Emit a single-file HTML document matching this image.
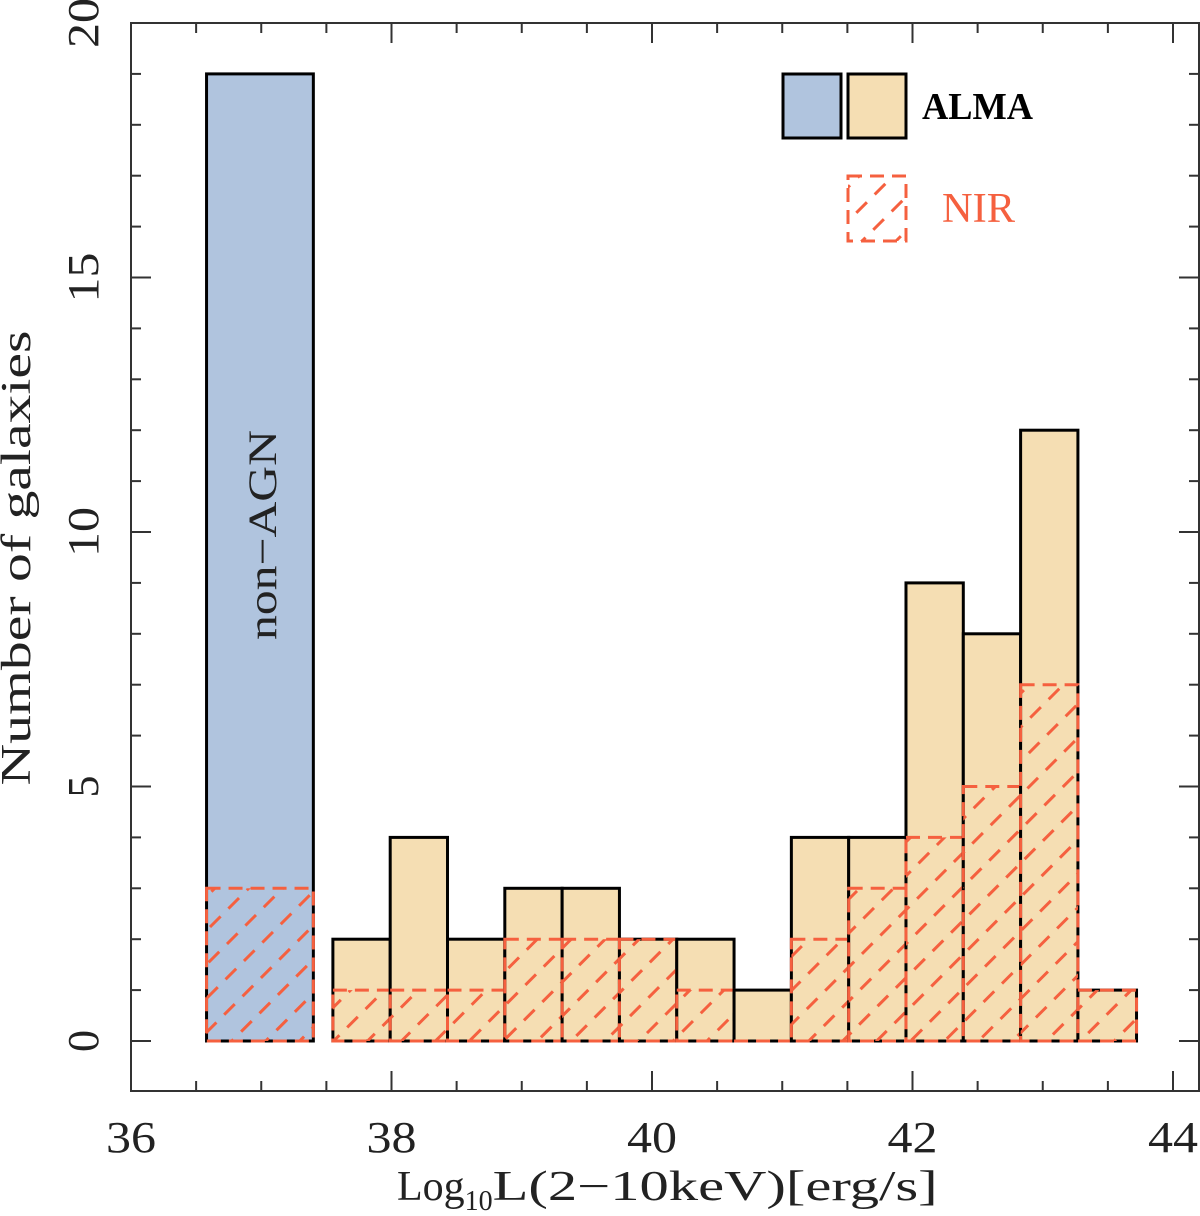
<!DOCTYPE html>
<html><head><meta charset="utf-8"><style>
html,body{margin:0;padding:0;background:#fff}
svg text{font-family:"Liberation Serif","DejaVu Serif",serif}
</style></head><body>
<svg id="chart" width="1200" height="1211" viewBox="0 0 1200 1211" xmlns="http://www.w3.org/2000/svg">
<defs>
<pattern id="hatch" patternUnits="userSpaceOnUse" width="24" height="26" patternTransform="rotate(45)">
<line x1="12" y1="-2" x2="12" y2="28" stroke="#f5603f" stroke-width="3" stroke-dasharray="15,11"/>
</pattern>
</defs>
<g id="bars"></g>
<g id="axes"></g>
<g>
<rect x="783" y="74" width="58" height="64" fill="#b0c4de" stroke="#000" stroke-width="3"/>
<rect x="848" y="74" width="58" height="64" fill="#f5deb3" stroke="#000" stroke-width="3"/>
<text x="922" y="119" font-size="38" font-weight="bold" textLength="111" lengthAdjust="spacingAndGlyphs">ALMA</text>
<rect x="848" y="176" width="58" height="65" fill="url(#hatch)" stroke="#f5603f" stroke-width="3" stroke-dasharray="14,8"/>
<text x="942" y="222" font-size="42" fill="#f5603f" textLength="73" lengthAdjust="spacingAndGlyphs">NIR</text>
</g>
<text transform="translate(276,535) rotate(-90)" text-anchor="middle" font-size="40" fill="#222" textLength="210" lengthAdjust="spacingAndGlyphs">non−AGN</text>
<text transform="translate(30,558) rotate(-90)" text-anchor="middle" font-size="42" fill="#222" textLength="455" lengthAdjust="spacingAndGlyphs">Number of galaxies</text>
<text x="397" y="1200" font-size="42" fill="#222">Log<tspan font-size="28" dy="10">10</tspan><tspan dy="-10" textLength="445" lengthAdjust="spacingAndGlyphs">L(2−10keV)[erg/s]</tspan></text>
</svg>
<script>
const binEdgesStart = [36.58, 37.55, 37.99, 38.43, 38.87, 39.31, 39.75, 40.19, 40.63, 41.07, 41.51, 41.95, 42.39, 42.83, 43.27];
const binEdgesEnd   = [37.40, 37.99, 38.43, 38.87, 39.31, 39.75, 40.19, 40.63, 41.07, 41.51, 41.95, 42.39, 42.83, 43.27, 43.72];
const almaCounts = [19, 2, 4, 2, 3, 3, 2, 2, 1, 4, 4, 9, 8, 12, 1];
const nirCounts  = [3, 1, 1, 1, 2, 2, 2, 1, 0, 2, 3, 4, 5, 7, 1];
const xTickLabels = ["36", "38", "40", "42", "44"];
const yTickLabels = ["0", "5", "10", "15", "20"];

const NS = "http://www.w3.org/2000/svg";
const X0 = 131, X1 = 1199, Y0 = 23, Y1 = 1091;
const xs = v => 131 + (v - 36) * 130.25;
const ys = v => 1041 - v * 50.9;
function mk(tag, attrs, parent){const e=document.createElementNS(NS,tag);for(const k in attrs)e.setAttribute(k,attrs[k]);parent.appendChild(e);return e;}
const bars = document.getElementById('bars');
const axes = document.getElementById('axes');

for (let i = 0; i < almaCounts.length; i++) {
  const x = xs(binEdgesStart[i]), w = xs(binEdgesEnd[i]) - x;
  const a = mk('rect', {x:x, y:ys(almaCounts[i]), width:w, height:ys(0)-ys(almaCounts[i]), fill: i===0 ? '#b0c4de' : '#f5deb3', stroke:'#000', 'stroke-width':3}, bars);
  
  
  if (nirCounts[i] > 0) {
    const n = mk('rect', {x:x, y:ys(nirCounts[i]), width:w, height:ys(0)-ys(nirCounts[i]), fill:'url(#hatch)', stroke:'#f5603f', 'stroke-width':3, 'stroke-dasharray':'14,8'}, bars);
    
    
  } else {
    const n = mk('line', {x1:x, y1:ys(0), x2:x+w, y2:ys(0), stroke:'#f5603f', 'stroke-width':3, 'stroke-dasharray':'14,8'}, bars);
    
    
  }
}

const frame = mk('rect', {x:X0, y:Y0, width:X1-X0, height:Y1-Y0, fill:'none', stroke:'#333', 'stroke-width':2}, axes);



for (let v = 36; v <= 44.2; v += 0.5) {
  const major = Math.abs(v - Math.round(v/2)*2) < 1e-6;
  const len = major ? 20 : 10, x = xs(v);
  mk('line', {x1:x, y1:Y1, x2:x, y2:Y1-len, stroke:'#333', 'stroke-width':2}, axes);
  mk('line', {x1:x, y1:Y0, x2:x, y2:Y0+len, stroke:'#333', 'stroke-width':2}, axes);
}
for (let v = 0; v <= 20; v += 1) {
  const major = v % 5 === 0, len = major ? 20 : 10, y = ys(v);
  mk('line', {x1:X0, y1:y, x2:X0+len, y2:y, stroke:'#333', 'stroke-width':2}, axes);
  mk('line', {x1:X1, y1:y, x2:X1-len, y2:y, stroke:'#333', 'stroke-width':2}, axes);
}
xTickLabels.forEach(l => {
  const t = mk('text', {x:xs(+l), y:1152, 'text-anchor':'middle', 'font-size':44, fill:'#222', textLength:50, lengthAdjust:'spacingAndGlyphs'}, axes);
  t.textContent = l;
  
  
});
yTickLabels.forEach(l => {
  const attrs = {transform:`translate(98,${ys(+l)}) rotate(-90)`, 'text-anchor':'middle', 'font-size':44, fill:'#222'};
  if (l.length > 1) { attrs.textLength = 50; attrs.lengthAdjust = 'spacingAndGlyphs'; }
  const t = mk('text', attrs, axes);
  t.textContent = l;
  
  
});
</script>
</body></html>
